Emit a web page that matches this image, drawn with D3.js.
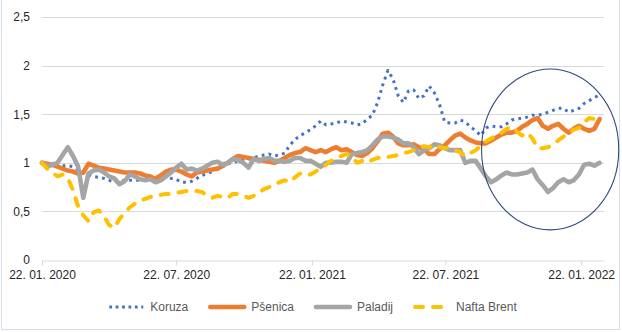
<!DOCTYPE html>
<html>
<head>
<meta charset="utf-8">
<script src="https://cdn.jsdelivr.net/npm/d3@7"></script>
<style>
  html, body { margin: 0; padding: 0; background: #fff; }
  svg { display: block; font-family: "Liberation Sans", Arial, sans-serif; }
</style>
</head>
<body>
<svg id="chart" width="622" height="332"></svg>
<script>
// Weekly observations, index relative to 22. 01. 2020 (= 1)
const startDate = "2020-01-22";
const endDate = "2022-02-22";

const koruza = [
  1.00, 0.99, 0.97, 0.97, 0.97, 0.97, 0.96, 0.93, 0.90, 0.88,
  0.86, 0.85, 0.84, 0.82, 0.80, 0.81, 0.82, 0.82, 0.82, 0.82,
  0.82, 0.83, 0.85, 0.87, 0.86, 0.84, 0.83, 0.80, 0.80, 0.81,
  0.84, 0.87, 0.89, 0.91, 0.94, 0.96, 0.99, 1.00, 1.02, 1.03,
  1.04, 1.05, 1.07, 1.08, 1.09, 1.07, 1.08, 1.10, 1.18, 1.24,
  1.28, 1.31, 1.34, 1.38, 1.43, 1.39, 1.40, 1.41, 1.43, 1.42,
  1.41, 1.39, 1.40, 1.45, 1.49, 1.62, 1.80, 1.95, 1.86, 1.69,
  1.62, 1.74, 1.75, 1.66, 1.69, 1.79, 1.72, 1.60, 1.42, 1.41,
  1.41, 1.44, 1.42, 1.37, 1.33, 1.28, 1.36, 1.38, 1.37, 1.37,
  1.40, 1.44, 1.45, 1.46, 1.47, 1.49, 1.49, 1.50, 1.52, 1.54,
  1.56, 1.56, 1.52, 1.54, 1.56, 1.61, 1.64, 1.67, 1.70
];

const psenica = [
  1.00, 0.99, 0.98, 0.96, 0.94, 0.92, 0.91, 0.89, 0.90, 0.99,
  0.97, 0.95, 0.94, 0.93, 0.92, 0.91, 0.90, 0.90, 0.90, 0.89,
  0.87, 0.86, 0.83, 0.87, 0.91, 0.93, 0.93, 0.91, 0.88, 0.86,
  0.90, 0.91, 0.92, 0.93, 0.94, 0.97, 1.00, 1.04, 1.07, 1.06,
  1.05, 1.04, 1.03, 1.02, 1.01, 1.00, 1.02, 1.05, 1.08, 1.10,
  1.11, 1.15, 1.13, 1.11, 1.13, 1.11, 1.14, 1.16, 1.13, 1.14,
  1.11, 1.08, 1.07, 1.10, 1.15, 1.22, 1.30, 1.31, 1.27, 1.20,
  1.18, 1.18, 1.19, 1.16, 1.14, 1.09, 1.09, 1.14, 1.18, 1.23,
  1.28, 1.30, 1.26, 1.23, 1.21, 1.20, 1.20, 1.23, 1.26, 1.29,
  1.31, 1.31, 1.33, 1.37, 1.40, 1.44, 1.46, 1.38, 1.35, 1.38,
  1.40, 1.35, 1.31, 1.35, 1.38, 1.35, 1.33, 1.35, 1.45
];

const paladij = [
  1.00, 0.96, 0.98, 1.00, 1.08, 1.16, 1.07, 0.96, 0.64, 0.89,
  0.92, 0.93, 0.90, 0.86, 0.84, 0.78, 0.81, 0.88, 0.86, 0.83,
  0.82, 0.83, 0.80, 0.82, 0.86, 0.90, 0.95, 0.99, 0.93, 0.94,
  0.92, 0.94, 0.97, 1.00, 1.01, 0.98, 1.00, 1.04, 1.03, 1.00,
  0.95, 1.04, 1.02, 1.04, 1.05, 1.02, 1.02, 1.01, 1.02, 1.05,
  1.05, 1.02, 1.02, 0.99, 0.96, 1.00, 1.00, 1.01, 1.01, 1.00,
  1.09, 1.10, 1.11, 1.13, 1.18, 1.24, 1.27, 1.27, 1.26, 1.24,
  1.20, 1.20, 1.16, 1.09, 1.13, 1.15, 1.19, 1.18, 1.15, 1.13,
  1.13, 1.13, 1.00, 1.02, 1.02, 0.94, 0.86, 0.80, 0.83, 0.87,
  0.90, 0.88, 0.88, 0.89, 0.90, 0.93, 0.83, 0.77, 0.70, 0.74,
  0.80, 0.83, 0.80, 0.82, 0.88, 0.98, 0.99, 0.97, 1.00
];

const naftaBrent = [
  1.00, 0.94, 0.90, 0.86, 0.88, 0.84, 0.72, 0.55, 0.46, 0.40,
  0.49, 0.51, 0.45, 0.36, 0.33, 0.42, 0.49, 0.54, 0.58, 0.61,
  0.63, 0.65, 0.66, 0.67, 0.68, 0.68, 0.69, 0.70, 0.71, 0.71,
  0.71, 0.70, 0.66, 0.64, 0.66, 0.65, 0.64, 0.68, 0.68, 0.66,
  0.64, 0.66, 0.69, 0.73, 0.75, 0.77, 0.80, 0.82, 0.80, 0.85,
  0.89, 0.87, 0.88, 0.91, 0.94, 0.98, 1.02, 1.05, 1.07, 1.09,
  1.07, 1.00, 1.02, 1.00, 1.03, 1.05, 1.06, 1.06, 1.07, 1.08,
  1.10, 1.11, 1.13, 1.16, 1.17, 1.16, 1.19, 1.16, 1.15, 1.16,
  1.13, 1.11, 1.07, 1.10, 1.13, 1.17, 1.22, 1.25, 1.28, 1.31,
  1.35, 1.37, 1.32, 1.28, 1.31, 1.25, 1.15, 1.15, 1.16, 1.19,
  1.23, 1.27, 1.31, 1.34, 1.36, 1.42, 1.46, 1.45, 1.52
];

const xTickDates = ["2020-01-22", "2020-07-22", "2021-01-22", "2021-07-22", "2022-01-22"];
const yTickValues = [0, 0.5, 1, 1.5, 2, 2.5];

// Highlighted recent period (annotation ellipse bounds)
const highlightFrom = "2021-09-09";
const highlightTo = "2022-03-14";
const highlightLow = 0.31;
const highlightHigh = 1.965;

const parse = d3.utcParse("%Y-%m-%d");
const start = parse(startDate);
const dates = d3.range(koruza.length).map(i => d3.utcDay.offset(start, 7 * i));

const series = [
  { name: "Koruza",      values: koruza,     color: "#4472C4", width: 3,   dash: "2.8,4.2", cap: "butt" },
  { name: "Pšenica",     values: psenica,    color: "#ED7D31", width: 4.6, dash: null,      cap: "round" },
  { name: "Paladij",     values: paladij,    color: "#A5A5A5", width: 4.6, dash: null,      cap: "round" },
  { name: "Nafta Brent", values: naftaBrent, color: "#FFC000", width: 4,   dash: "8,10",    cap: "round" }
];

const svg = d3.select("#chart");
const W = 622, H = 332;
const margin = { left: 42, right: 18, top: 17, bottom: 72 };

const x = d3.scaleUtc()
  .domain([start, parse(endDate)])
  .range([margin.left, W - margin.right]);
const y = d3.scaleLinear()
  .domain([0, 2.5])
  .range([H - margin.bottom, margin.top]);

// chart frame
svg.append("rect").attr("width", W).attr("height", H).attr("fill", "#fff");
svg.append("path")
  .attr("d", `M1.5,0V329.5H619.5V0`)
  .attr("fill", "none").attr("stroke", "#D6DEEA").attr("stroke-width", 1);

const locale = d3.formatLocale({ decimal: ",", thousands: ".", grouping: [3], currency: ["", " €"] });
const yFmt = locale.format(".2~f");
const xFmt = d3.utcFormat("%d. %m. %Y");

// gridlines
svg.append("g")
  .selectAll("line")
  .data(yTickValues.filter(v => v > 0))
  .join("line")
  .attr("x1", x.range()[0]).attr("x2", x.range()[1])
  .attr("y1", d => Math.round(y(d)) + 0.5).attr("y2", d => Math.round(y(d)) + 0.5)
  .attr("stroke", "#D9D9D9").attr("stroke-width", 1);

// y axis labels
const yAxis = svg.append("g")
  .attr("transform", `translate(${margin.left},0)`)
  .call(d3.axisLeft(y).tickValues(yTickValues).tickFormat(yFmt).tickSize(0).tickPadding(12));
yAxis.select(".domain").remove();
yAxis.selectAll("text")
  .attr("font-size", 12).attr("fill", "#262626")
  .attr("font-family", "Liberation Sans, Arial, sans-serif");

// x axis
const xAxis = svg.append("g")
  .attr("transform", `translate(0,${Math.round(y(0)) + 0.5})`)
  .call(d3.axisBottom(x).tickValues(xTickDates.map(parse)).tickFormat(xFmt).tickSize(5).tickSizeOuter(0).tickPadding(5));
xAxis.select(".domain").attr("stroke", "#D9D9D9");
xAxis.selectAll(".tick line").attr("stroke", "#D9D9D9");
xAxis.selectAll("text")
  .attr("font-size", 12).attr("fill", "#262626")
  .attr("font-family", "Liberation Sans, Arial, sans-serif");

// series lines
const line = d3.line()
  .x((d, i) => x(dates[i]))
  .y(d => y(d));

svg.append("g")
  .selectAll("path")
  .data(series)
  .join("path")
  .attr("d", s => line(s.values))
  .attr("fill", "none")
  .attr("stroke", s => s.color)
  .attr("stroke-width", s => s.width)
  .attr("stroke-dasharray", s => s.dash)
  .attr("stroke-linecap", s => s.cap)
  .attr("stroke-linejoin", "round");

// highlight ellipse
const ex0 = x(parse(highlightFrom)), ex1 = x(parse(highlightTo));
const ey0 = y(highlightHigh), ey1 = y(highlightLow);
svg.append("ellipse")
  .attr("cx", (ex0 + ex1) / 2).attr("cy", (ey0 + ey1) / 2)
  .attr("rx", (ex1 - ex0) / 2).attr("ry", (ey1 - ey0) / 2)
  .attr("fill", "none").attr("stroke", "#2F4A7E").attr("stroke-width", 1.1);

// legend
const legend = svg.append("g").attr("font-size", 12).attr("fill", "#595959");
const sampleW = 38, gapText = 5, gapItem = 20, legendY = 307;
const items = legend.selectAll("g").data(series).join("g");
items.append("text")
  .attr("dy", "0.35em")
  .attr("y", legendY)
  .text(s => s.name);
let widths = [];
items.select("text").each(function () { widths.push(this.getComputedTextLength()); });
const total = d3.sum(widths) + series.length * (sampleW + gapText) + (series.length - 1) * gapItem;
let cursor = 312 - total / 2;
items.each(function (s, i) {
  const g = d3.select(this);
  const x0 = cursor;
  g.append("line")
    .attr("x1", x0 + 2).attr("x2", x0 + sampleW - 2)
    .attr("y1", legendY).attr("y2", legendY)
    .attr("stroke", s.color)
    .attr("stroke-width", s.width)
    .attr("stroke-dasharray", s.name === "Koruza" ? "2.8,3.6" : s.dash)
    .attr("stroke-linecap", s.cap);
  g.select("text").attr("x", x0 + sampleW + gapText);
  cursor = x0 + sampleW + gapText + widths[i] + gapItem;
});
</script>
</body>
</html>
